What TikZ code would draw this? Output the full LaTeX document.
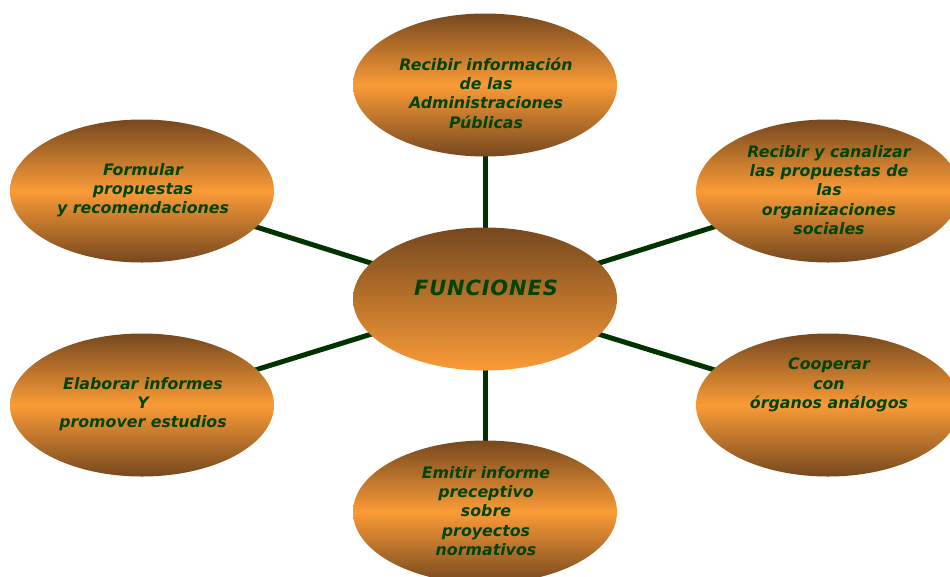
\documentclass[tikz,border=0pt]{standalone}
\usepackage{fontspec}
\newfontfamily\dv{DejaVu Sans}
\usetikzlibrary{shapes.geometric,backgrounds}
\definecolor{brn}{RGB}{118,72,30}
\definecolor{org}{RGB}{250,155,55}
\definecolor{txtg}{RGB}{0,68,0}
\definecolor{lng}{RGB}{0,51,0}
\begin{document}
\begin{tikzpicture}[x=1pt,y=-1pt,
  ell/.style={ellipse, minimum width=264pt, minimum height=143pt, inner sep=0pt},
  outer/.style={ell, top color=brn, bottom color=brn, middle color=org},
  cent/.style={ell, top color=brn, bottom color=org},
  lbl/.style={font=\dv\bfseries\itshape\fontsize{15.8}{19.3}\selectfont, text=txtg, align=center, inner sep=0pt},
  big/.style={font=\dv\bfseries\itshape\fontsize{21}{24}\selectfont\addfontfeatures{LetterSpace=4}, text=txtg, inner sep=0pt},
  conn/.style={draw=lng, line width=5pt}]
\useasboundingbox (0,0) rectangle (950,576);
\clip (0,0) rectangle (950,576);
\node[cent] (c) at (485,299) {};
\node[outer] (t) at (485,85) {};
\node[outer] (tr) at (828,191) {};
\node[outer] (tl) at (142,191) {};
\node[outer] (bl) at (142,405) {};
\node[outer] (br) at (828,405) {};
\node[outer] (b) at (485,512) {};
\begin{scope}[on background layer]
\draw[conn] (c.center) -- (t.center);
\draw[conn] (c.center) -- (tr.center);
\draw[conn] (c.center) -- (tl.center);
\draw[conn] (c.center) -- (bl.center);
\draw[conn] (c.center) -- (br.center);
\draw[conn] (c.center) -- (b.center);
\end{scope}
\node[big] (ct) at (486,288) {FUNCIONES};
\node[lbl] (tt) at (486,93) {Recibir información\\de las\\Administraciones\\Públicas};
\node[lbl] (trt) at (829,190) {Recibir y canalizar\\las propuestas de\\las\\organizaciones\\sociales};
\node[lbl] (tlt) at (143,190) {Formular\\propuestas\\y recomendaciones};
\node[lbl] (blt) at (143,404) {Elaborar informes\\Y\\promover estudios};
\node[lbl] (brt) at (829,385) {Cooperar\\con\\órganos análogos};
\node[lbl] (bt) at (486,511) {Emitir informe\\preceptivo\\sobre\\proyectos\\normativos};
\end{tikzpicture}
\end{document}
